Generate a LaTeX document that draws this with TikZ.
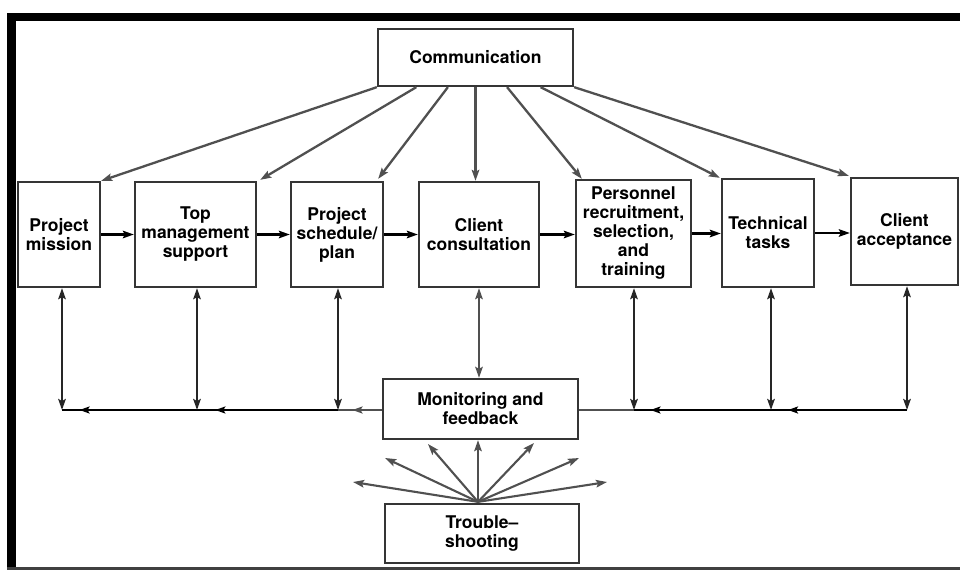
\documentclass[tikz,border=0pt]{standalone}
\usepackage{fontspec}
\setmainfont{TeX Gyre Heros}
\usetikzlibrary{arrows.meta,calc,decorations.markings}
\definecolor{boxgray}{HTML}{353535}
\definecolor{linkgray}{HTML}{505050}
\definecolor{framegray}{HTML}{404040}

\begin{document}
\begin{tikzpicture}[x=1pt,y=-1pt,
  box/.style={draw=boxgray, line width=2.3pt, fill=white, align=center,
    inner sep=0pt, font=\fontsize{17.5}{19}\selectfont\bfseries},
  tipS/.style={-{Stealth[length=11pt,width=7.5pt,inset=2pt]}},
  flow/.style={tipS, line width=2.8pt, black},
  comm/.style={tipS, line width=2.3pt, linkgray},
  fan/.style={tipS, line width=2.1pt, linkgray},
  dbl/.style={{Stealth[length=11pt,width=7.5pt,inset=2pt]}-{Stealth[length=11pt,width=7.5pt,inset=2pt]}, line width=2.1pt, #1},
  dbl/.default=black!85,
  bus/.style={line width=2.8pt, #1},
  bus/.default=black,
  midarrow/.style={postaction={decorate}, decoration={markings,
    mark=at position #1 with {\arrow{Stealth[length=10pt,width=7pt,inset=2pt]}}}}
]
\useasboundingbox (0,0) rectangle (960,570);
\fill[white] (0,0) rectangle (960,570);

% outer frame
\fill[black] (7,13) rectangle (960,20.5);
\fill[black] (7,13) rectangle (16,570);
\fill[framegray] (7,566.5) rectangle (960,570);

% boxes
\node[box, minimum width=195pt, minimum height=57pt] (comm) at (475.5,57.5) {Communication};
\node[box, minimum width=82pt, minimum height=105pt] (mission) at (59,234.5) {Project\\mission};
\node[box, minimum width=121pt, minimum height=105pt] (topmgmt) at (195.5,234.5) {Top\\management\\support};
\node[box, minimum width=92pt, minimum height=105pt] (sched) at (337,234.5) {Project\\schedule/\\plan};
\node[box, minimum width=120pt, minimum height=105pt] (consult) at (479,234.5) {Client\\consultation};
\node[box, minimum width=115pt, minimum height=107pt] (staff) at (633.5,233.5) {Personnel\\recruitment,\\selection,\\and\\training};
\node[box, minimum width=92pt, minimum height=108pt] (tech) at (768,233) {Technical\\tasks};
\node[box, minimum width=107pt, minimum height=107pt] (accept) at (904.5,231.5) {Client\\acceptance};
\node[box, minimum width=195pt, minimum height=60pt] (monitor) at (480.5,409) {Monitoring and\\feedback};
\node[box, minimum width=194pt, minimum height=59pt] (trouble) at (482,533.5) {Trouble--\\shooting};

% communication reaches every stage
\draw[comm] (comm.south west) -- (mission.north east);
\draw[comm] ($(comm.south west)!0.2!(comm.south east)$) -- ($(topmgmt.north east)+(3,-1)$);
\draw[comm] ($(comm.south west)!0.36!(comm.south east)$) -- ($(sched.north east)+(-6,-2)$);
\draw[comm] (comm.south) -- (comm.south |- consult.north);
\draw[comm] ($(comm.south west)!0.66!(comm.south east)$) -- ($(staff.north west)+(7,0)$);
\draw[comm] ($(comm.south west)!0.83!(comm.south east)$) -- ($(tech.north west)+(-1,0)$);
\draw[comm] (comm.south east) -- ($(accept.north west)+(-1,-1)$);

% main sequence
\draw[flow] (mission.east) -- (topmgmt.west);
\draw[flow] (topmgmt.east) -- (sched.west);
\draw[flow] (sched.east) -- (consult.west);
\draw[flow] (consult.east) -- (consult.east -| staff.west);
\draw[flow] (staff.east) -- (staff.east -| tech.west);
\draw[flow] (tech.east) -- (tech.east -| accept.west);

% feedback bus junctions
\coordinate (j1) at (62,410);
\coordinate (j2) at (197,410);
\coordinate (j3) at (338,410);
\coordinate (j4) at (634,410);
\coordinate (j5) at (771,410);
\coordinate (j6) at (907,410);

% feedback bus
\draw[bus=linkgray, midarrow=0.67] (monitor.west |- j3) -- (j3);
\draw[bus, midarrow=0.87] (j3) -- (j2);
\draw[bus, midarrow=0.87] (j2) -- (j1);
\draw[bus=linkgray] (monitor.east |- j4) -- (j4);
\draw[bus, midarrow=0.88] (j5) -- (j4);
\draw[bus, midarrow=0.875] (j6) -- (j5);

% two-way links between the stages and the bus
\draw[dbl] (j1 |- mission.south) -- (j1);
\draw[dbl] (j2 |- topmgmt.south) -- (j2);
\draw[dbl] (j3 |- sched.south) -- (j3);
\draw[dbl=linkgray] (consult.south) -- (consult.south |- monitor.north);
\draw[dbl] (j4 |- staff.south) -- (j4);
\draw[dbl] (j5 |- tech.south) -- (j5);
\draw[dbl] (j6 |- accept.south) -- (j6);

% troubleshooting fan
\coordinate (fo) at ($(trouble.north)+(-4,-1)$);
\coordinate (f1) at (353,482);
\coordinate (f2) at (385,458);
\coordinate (f3) at (428,444);
\coordinate (f5) at (534,443);
\coordinate (f6) at (579,458);
\coordinate (f7) at (607,482);
\foreach \f in {f1,f2,f3,f5,f6,f7} \draw[fan] (fo) -- (\f);
\draw[fan] (fo) -- (fo |- monitor.south);
\end{tikzpicture}
\end{document}
